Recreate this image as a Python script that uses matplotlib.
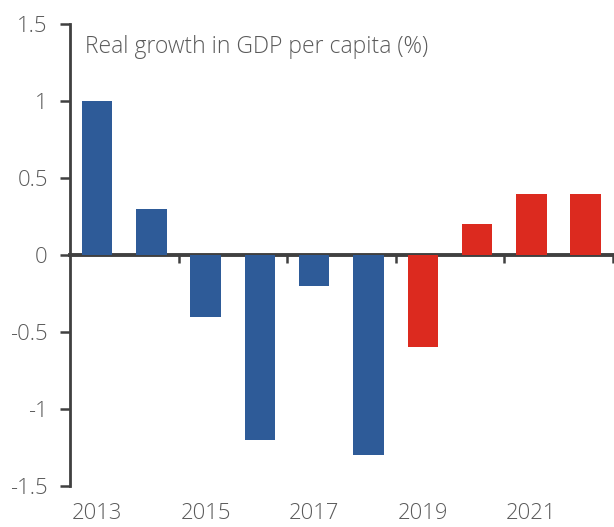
import matplotlib
matplotlib.use('Agg')
import matplotlib.pyplot as plt
import numpy as np

years = [2013, 2014, 2015, 2016, 2017, 2018, 2019, 2020, 2021, 2022]
growth = [1.0, 0.3, -0.4, -1.2, -0.2, -1.3, -0.6, 0.2, 0.4, 0.4]
forecast_from = 2019

blue = '#2E5B98'
red = '#DC2A1F'
grey = '#5A5A5A'
axis_col = '#404040'

plt.rcParams['font.family'] = ['Open Sans', 'DejaVu Sans']
plt.rcParams['font.weight'] = 300

fig = plt.figure(figsize=(6.14, 5.27), dpi=100)
ax = fig.add_axes([0.114, 0.078, 0.884, 0.876])

x = np.arange(len(years))
cols = [red if y >= forecast_from else blue for y in years]
ax.bar(x, growth, width=0.56, color=cols, zorder=2)

ax.set_xlim(-0.5, len(years) - 0.5)
ax.set_ylim(-1.5, 1.5)
ax.set_yticks([-1.5, -1, -0.5, 0, 0.5, 1, 1.5])
ax.set_yticklabels(['-1.5', '-1', '-0.5', '0', '0.5', '1', '1.5'])

# year labels under the plot, every second year
ax.set_xticks(x[::2])
ax.set_xticklabels([str(y) for y in years[::2]])
ax.tick_params(axis='x', length=0, pad=12, labelsize=15.8, labelcolor=grey)
ax.tick_params(axis='y', length=7, width=1.8, color=axis_col, pad=9,
               labelsize=15.8, labelcolor=grey)

for s in ['top', 'right', 'bottom']:
    ax.spines[s].set_visible(False)
ax.spines['left'].set_color(axis_col)
ax.spines['left'].set_linewidth(2)

# zero line with ticks between pairs of years
zero = ax.secondary_xaxis(0.5)
zero.xaxis.set_ticks_position('bottom')
zero.set_xticks(np.arange(1.5, len(years), 2))
zero.set_xticklabels([])
zero.tick_params(length=6, width=1.8, color=axis_col, direction='out')
for s in zero.spines.values():
    s.set_visible(False)
zero.spines['bottom'].set_visible(True)
zero.spines['bottom'].set_color(axis_col)
zero.spines['bottom'].set_linewidth(2.8)
zero.spines['bottom'].set_zorder(3)

ax.text(0.028, 0.977, 'Real growth in GDP per capita (%)', transform=ax.transAxes,
        ha='left', va='top', fontsize=16.5, color=grey)

fig.savefig('out.png', dpi=100)
